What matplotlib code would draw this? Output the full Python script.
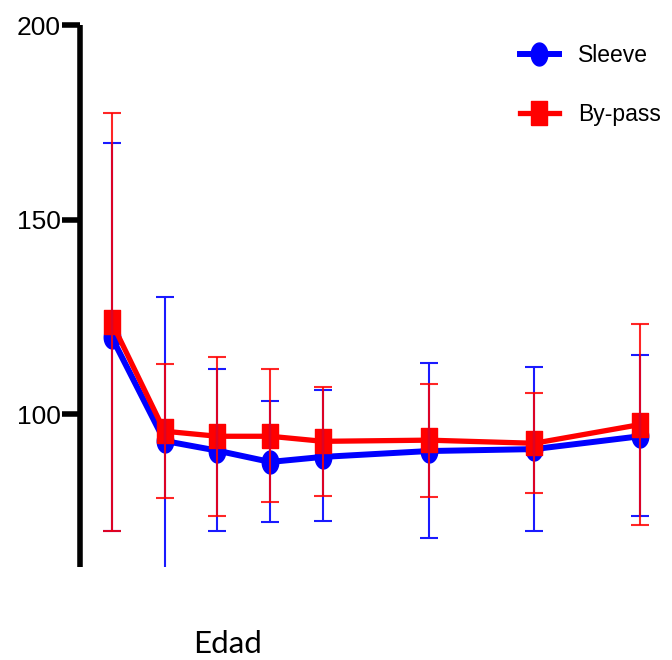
import numpy as np
import matplotlib
matplotlib.use("Agg")
import matplotlib.pyplot as plt

# time points (irregular spacing on the x axis)
visits = [0, 1, 2, 3, 4, 6, 8, 10]

sleeve_mean = [119.8, 93.1, 90.6, 87.7, 89.0, 90.5, 91.0, 94.3]
sleeve_upper = [169.7, 130.0, 111.7, 103.4, 106.3, 113.2, 112.2, 115.2]
sleeve_lower = [69.9, 56.0, 70.0, 72.2, 72.6, 68.2, 70.0, 73.8]

bypass_mean = [123.6, 95.6, 94.3, 94.3, 93.0, 93.3, 92.5, 97.3]
bypass_upper = [177.4, 112.9, 114.7, 111.7, 106.9, 107.7, 105.3, 123.1]
bypass_lower = [69.9, 78.4, 73.9, 77.3, 78.9, 78.7, 79.8, 71.6]

y_ticks = [100, 150, 200]

# slightly tall markers, like the original
t = np.linspace(0, 2 * np.pi, 60)
ellipse = np.column_stack([0.72 * np.cos(t), np.sin(t)])
rect = np.array([[-0.68, -1], [0.68, -1], [0.68, 1], [-0.68, 1], [-0.68, -1]])

fig = plt.figure(figsize=(6.72, 6.6), dpi=100)
ax = fig.add_axes([80 / 672, 93 / 660, 581 / 672, 542 / 660])

x = np.array(visits)
sm = np.array(sleeve_mean)
bm = np.array(bypass_mean)
s_err = [sm - np.array(sleeve_lower), np.array(sleeve_upper) - sm]
b_err = [bm - np.array(bypass_lower), np.array(bypass_upper) - bm]

ax.plot(x, sm, color="#0000ff", lw=4.3, marker=ellipse, ms=16.5,
        zorder=3, label="Sleeve")
ax.plot(x, bm, color="#ff0000", lw=3.8, marker=rect, ms=17,
        zorder=4, label="By-pass")
ax.errorbar(x, sm, yerr=s_err, fmt="none", ecolor="#1a1aff", elinewidth=1.5,
            capsize=6.5, capthick=1.5, zorder=5)
ax.errorbar(x, bm, yerr=b_err, fmt="none", ecolor="#ff0000", elinewidth=1.5,
            capsize=6.5, capthick=1.5, zorder=6, alpha=0.85)

ax.set_xlim(-0.6, 10.4)
ax.set_ylim(60.7, 200)
ax.set_yticks(y_ticks)
ax.set_xticks([])

for side in ["top", "right", "bottom"]:
    ax.spines[side].set_visible(False)
ax.spines["left"].set_linewidth(4)
ax.spines["left"].set_capstyle("butt")
ax.tick_params(axis="y", length=13, width=4, pad=1, labelsize=19)
for lab in ax.get_yticklabels():
    lab.set_fontfamily("Liberation Sans")

leg = ax.legend(loc="upper left", bbox_to_anchor=(520 / 672, 1 - 44 / 660),
                bbox_transform=fig.transFigure, frameon=False,
                prop={"family": "Liberation Sans", "size": 16.5},
                handlelength=1.7, handletextpad=0.85, labelspacing=1.55,
                borderpad=0, borderaxespad=0)

fig.text(228 / 672, 1 - 644 / 660, "Edad", ha="center", va="center",
         fontsize=22.5, family="Lato")

fig.savefig("out.png", dpi=100)
